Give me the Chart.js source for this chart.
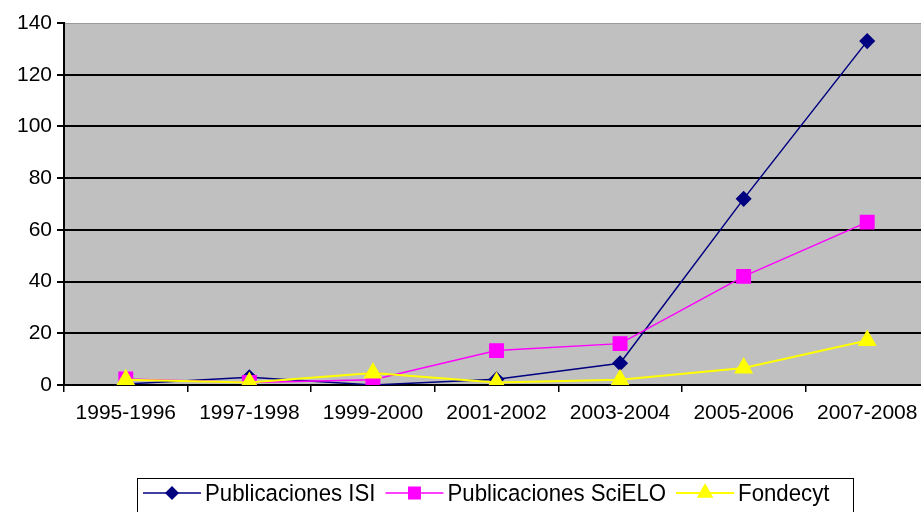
<!DOCTYPE html>
<html>
<head>
<meta charset="utf-8">
<script src="https://cdn.jsdelivr.net/npm/chart.js@4"></script>
<style>
  html, body { margin: 0; padding: 0; background: #fff; overflow: hidden; }
  #wrap { width: 940px; height: 512px; position: relative; }
</style>
</head>
<body>
<div id="wrap"><canvas id="chart"></canvas></div>
<script>
// Chart data
const periods = ["1995-1996", "1997-1998", "1999-2000", "2001-2002", "2003-2004", "2005-2006", "2007-2008"]
const isiValues = [0.4, 3, 0, 2.2, 8.4, 72, 133]
const scieloValues = [2.3, 1, 2, 13.3, 16, 42, 63]
const fondecytValues = [2, 1, 4.6, 1, 2, 6.6, 17.2]
const yTicks = [0, 20, 40, 60, 80, 100, 120, 140]

const seriesNames = ["Publicaciones ISI", "Publicaciones SciELO", "Fondecyt"]

// Grey plot background + light top border
const plotBackground = {
  id: "plotBackground",
  beforeDraw(chart) {
    const { ctx, chartArea } = chart
    ctx.save()
    ctx.fillStyle = "#c0c0c0"
    ctx.fillRect(chartArea.left, chartArea.top, chartArea.right - chartArea.left, chartArea.bottom - chartArea.top)
    ctx.strokeStyle = "#9a9a9a"
    ctx.lineWidth = 1
    ctx.beginPath()
    ctx.moveTo(chartArea.left, chartArea.top + 0.5)
    ctx.lineTo(chartArea.right, chartArea.top + 0.5)
    ctx.stroke()
    ctx.restore()
  },
}

// Boxed legend below the chart, line + marker + label like the original
const boxLegend = {
  id: "boxLegend",
  afterDraw(chart) {
    const { ctx } = chart
    const boxLeft = 137
    const boxTop = 478
    ctx.save()
    ctx.fillStyle = "#fff"
    ctx.fillRect(boxLeft, boxTop, 716, 60)
    ctx.strokeStyle = "#000"
    ctx.lineWidth = 1
    ctx.strokeRect(boxLeft + 0.5, boxTop + 0.5, 716, 60)

    ctx.font = "22px 'Liberation Sans', Arial, sans-serif"
    ctx.textBaseline = "middle"
    let x = boxLeft + 6
    const y = 493
    chart.data.datasets.forEach((ds) => {
      ctx.strokeStyle = ds.borderColor
      ctx.lineWidth = ds.borderWidth
      ctx.beginPath()
      ctx.moveTo(x, y)
      ctx.lineTo(x + 58, y)
      ctx.stroke()
      Chart.helpers.drawPoint(ctx, {
        pointStyle: ds.pointStyle,
        radius: ds.pointRadius * 0.85,
        borderWidth: 1,
      }, x + 29, y)
      ctx.fillStyle = ds.borderColor
      ctx.fill()
      ctx.fillStyle = "#000"
      const w = ctx.measureText(ds.label).width
      // the original legend text is a little wider than Arial
      ctx.save()
      ctx.translate(x + 62, y + 1)
      ctx.scale(1.01, 1.08)
      ctx.fillText(ds.label, 0, 0)
      ctx.restore()
      x += 62 + w * 1.01 + 10
    })
    ctx.restore()
  },
}

const tickFont = { family: "'Liberation Sans', Arial, sans-serif", size: 21 }

new Chart(document.getElementById("chart"), {
  type: "line",
  data: {
    labels: periods,
    datasets: [
      {
        label: seriesNames[0],
        data: isiValues,
        borderColor: "#000080",
        backgroundColor: "#000080",
        borderWidth: 1.5,
        pointStyle: "rectRot",
        pointRadius: 7,
        pointHoverRadius: 7,
        order: 3,
      },
      {
        label: seriesNames[1],
        data: scieloValues,
        borderColor: "#ff00ff",
        backgroundColor: "#ff00ff",
        borderWidth: 1.5,
        pointStyle: "rect",
        pointRadius: 9.5,
        pointHoverRadius: 9.5,
        order: 2,
      },
      {
        label: seriesNames[2],
        data: fondecytValues,
        borderColor: "#ffff00",
        backgroundColor: "#ffff00",
        borderWidth: 2,
        pointStyle: "triangle",
        pointRadius: 9,
        pointHoverRadius: 9,
        order: 1,
      },
    ],
  },
  options: {
    responsive: true,
    maintainAspectRatio: false,
    animation: false,
    layout: { padding: { left: 0, right: 6, top: 23, bottom: 0 } },
    plugins: {
      legend: { display: false },
      tooltip: { enabled: false },
    },
    elements: { line: { tension: 0 } },
    scales: {
      x: {
        type: "category",
        offset: true,
        grid: {
          offset: true,
          drawOnChartArea: false,
          drawTicks: true,
          tickLength: 7,
          color: "#000",
          lineWidth: 1.5,
        },
        border: { display: true, color: "#000", width: 2 },
        ticks: {
          autoSkip: false,
          maxRotation: 0,
          color: "#000",
          font: tickFont,
          padding: 9,
        },
        afterFit: (scale) => { scale.height = 127 },
      },
      y: {
        min: 0,
        max: 140,
        afterBuildTicks: (scale) => { scale.ticks = yTicks.map((v) => ({ value: v })) },
        grid: {
          color: (c) => (c.tick && c.tick.value === 140 ? "rgba(0,0,0,0)" : "#000"),
          lineWidth: 2,
          drawTicks: true,
          tickLength: 7,
          tickColor: "#000",
        },
        border: { display: true, color: "#000", width: 2 },
        ticks: {
          color: "#000",
          font: { family: "'Liberation Sans', Arial, sans-serif", size: 21 },
          padding: 5,
        },
        afterFit: (scale) => { scale.width = 64 },
      },
    },
  },
  plugins: [plotBackground, boxLegend],
})
</script>
</body>
</html>
